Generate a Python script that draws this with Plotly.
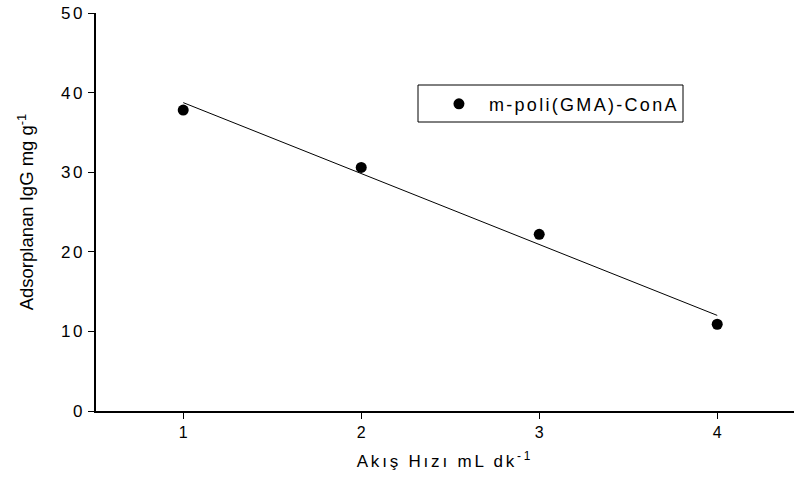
import numpy as np
import plotly.graph_objects as go

flow_rate = [1, 2, 3, 4]
igg_adsorbed = [37.8, 30.6, 22.2, 10.9]
y_ticks = [0, 10, 20, 30, 40, 50]
x_ticks = [1, 2, 3, 4]
series_name = "m-poli(GMA)-ConA"

slope, intercept = np.polyfit(flow_rate, igg_adsorbed, 1)
fit_x = [flow_rate[0], flow_rate[-1]]
fit_y = [slope * v + intercept for v in fit_x]

FONT = "Liberation Sans, Arial, sans-serif"

def spaced(t, sp, size):
    return f'<span style="letter-spacing:{sp}px;font-size:{size}px">{t}</span>'

fig = go.Figure()
fig.add_trace(go.Scatter(x=fit_x, y=fit_y, mode="lines",
                         line=dict(color="black", width=1), showlegend=False))
fig.add_trace(go.Scatter(x=flow_rate, y=igg_adsorbed, mode="markers",
                         marker=dict(color="black", size=11),
                         name=spaced(series_name, 2.3, 18)))

fig.update_layout(
    width=794, height=486,
    margin=dict(l=96, r=0, t=13, b=75),
    paper_bgcolor="white", plot_bgcolor="white",
    font=dict(family=FONT, color="black", size=14),
    showlegend=True,
    legend=dict(x=0.477, y=0.771, xanchor="left", yanchor="middle",
                bgcolor="rgba(0,0,0,0)", borderwidth=0,
                font=dict(size=18, family=FONT), itemwidth=50),
    shapes=[dict(type="rect", xref="paper", yref="paper",
                 x0=(418 - 96) / 698, x1=(683 - 96) / 698,
                 y0=(398 - (122 - 13)) / 398, y1=(398 - (85 - 13)) / 398,
                 line=dict(color="black", width=1))],
)
fig.update_xaxes(range=[0.51, 0.51 + 698 / 178], showline=True, linecolor="black",
                 linewidth=1.5, ticks="outside", ticklen=6, tickcolor="black",
                 tickvals=x_ticks, ticktext=[str(t) for t in x_ticks],
                 tickfont=dict(size=16),
                 showgrid=False, zeroline=False,
                 title=dict(text=spaced("Akış Hızı mL dk<sup>-1</sup>", 2.8, 17),
                            font=dict(size=17), standoff=15))
fig.update_yaxes(range=[0, 50], showline=True, linecolor="black", linewidth=1.5,
                 ticks="outside", ticklen=6, tickcolor="black",
                 tickvals=y_ticks, ticktext=[spaced(str(t), 2.5, 17) for t in y_ticks],
                 tickfont=dict(size=17),
                 showgrid=False, zeroline=False,
                 title=dict(text="Adsorplanan IgG mg g<sup>-1</sup>",
                            font=dict(size=18.5), standoff=22))

fig.write_html("out.html")
